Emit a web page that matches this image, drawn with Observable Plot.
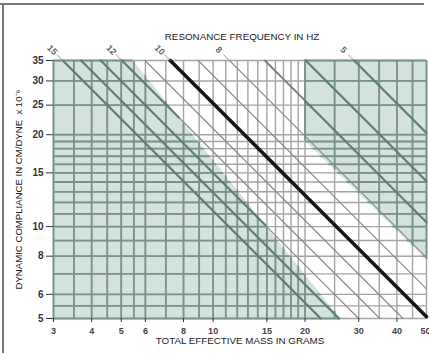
<!DOCTYPE html>
<html><head><meta charset="utf-8">
<script src="https://cdn.jsdelivr.net/npm/d3@7"></script>
<script src="https://cdn.jsdelivr.net/npm/@observablehq/plot@0.6"></script>
<style>
body{margin:0;background:#fff;}
#wrap{position:relative;width:429px;height:353px;overflow:hidden;}
#wrap svg{display:block;}
.ft{position:absolute;left:0;top:3px;width:424px;height:2px;background:#777;}
.fl{position:absolute;left:2px;top:3px;width:2px;height:350px;background:#777;}
</style></head><body><div id="wrap"><div class="ft"></div><div class="fl"></div></div>
<script>
// resonance frequency lines (Hz)
const freqs = [15, 14, 13, 12, 11, 10, 9, 8, 7, 6, 5];
const labeledFreqs = [15, 12, 10, 8, 5];
const boldFreq = 10;
// grid values
const massGrid = [3,3.5,4,4.5,5,5.5,6,7,8,9,10,11,12,13,14,15,16,17,18,19,20,25,30,35,40,45,50];
const complianceGrid = [5,5.5,6,7,8,9,10,11,12,13,14,15,16,17,18,19,20,25,30,35];
// tick labels
const massTicks = [3,4,5,6,8,10,15,20,30,40];
const massTickLast = [50];
const complianceTicks = [5,6,8,10,15,20,25,30,35];
// shaded zones: boundary endpoints [mass, compliance]
const lowZoneEdge = [[5.47, 35], [26.1, 5]];
const highZoneEdge = [[20, 19.1], [50, 7.8]];

const L = Math.log10;
const K = f => 1e6 / (4 * Math.PI * Math.PI * f * f); // M*C product
function edgeCatM(edge, m) {
  const [[m1, c1], [m2, c2]] = edge;
  return 10 ** (L(c1) + (L(m) - L(m1)) * (L(c2) - L(c1)) / (L(m2) - L(m1)));
}
function edgeMatC(edge, c) {
  const [[m1, c1], [m2, c2]] = edge;
  return 10 ** (L(m1) + (L(c) - L(c1)) * (L(m2) - L(m1)) / (L(c2) - L(c1)));
}
const [lowA, lowB] = lowZoneEdge, [hiA, hiB] = highZoneEdge;

const lowZone = [[3, 35], lowA, lowB];
const highZone = [hiA, hiB];

// grid segments inside the shaded zones
const gx = [], gy = [];
for (const m of massGrid) {
  if (m < lowB[0]) gx.push({m, c1: 5, c2: m <= lowA[0] ? 35 : edgeCatM(lowZoneEdge, m)});
  if (m >= hiA[0]) gx.push({m, c1: edgeCatM(highZoneEdge, m), c2: 35});
}
for (const c of complianceGrid) {
  gy.push({c, m1: 3, m2: edgeMatC(lowZoneEdge, c)});
  if (c >= hiA[1]) gy.push({c, m1: hiA[0], m2: 50});
  else if (c > hiB[1]) gy.push({c, m1: edgeMatC(highZoneEdge, c), m2: 50});
}

// diagonal lines, styled by the zone they cross
const strongSeg = [], thinSeg = [], midSeg = [], boldSeg = [];
const pt = (f, m) => ({f, m, c: K(f) / m});
for (const f of freqs) {
  const k = K(f);
  const mStart = Math.max(3, k / 35), mEnd = Math.min(50, k / 5);
  if (f === boldFreq) { boldSeg.push(pt(f, mStart), pt(f, mEnd)); continue; }
  if (f < 8) {
    if (mStart < hiA[0]) {
      midSeg.push(pt(f, mStart), pt(f, hiA[0]));
      strongSeg.push(pt(f + 0.001, hiA[0]), pt(f + 0.001, mEnd));
    } else strongSeg.push(pt(f, mStart), pt(f, mEnd));
    continue;
  }
  const u1 = L(lowA[0]), v1 = L(lowA[1]), du = L(lowB[0]) - u1, dv = L(lowB[1]) - v1;
  const t = (L(k) - u1 - v1) / (du + dv);
  const mCross = 10 ** (u1 + t * du);
  if (mCross <= mStart) thinSeg.push(pt(f, mStart), pt(f, mEnd));
  else if (mCross >= mEnd) strongSeg.push(pt(f, mStart), pt(f, mEnd));
  else {
    strongSeg.push(pt(f, mStart), pt(f, mCross));
    thinSeg.push(pt(f, mCross), pt(f, mEnd));
  }
}
const leaderRows = [];
for (const f of labeledFreqs) leaderRows.push({f, m: K(f) / 35, c: 35}, {f, m: K(f) / 36.5, c: 36.5});
const labelRows = labeledFreqs.map(f => ({f, m: K(f) / 37.9, c: 37.9}));

const zoneFill = "#d3e2dc";
const chart = Plot.plot({
  width: 429, height: 353,
  marginLeft: 53, marginRight: 3, marginTop: 60, marginBottom: 35,
  style: {fontFamily: "'Liberation Sans', Arial, sans-serif", fontSize: "9px", color: "#333", background: "transparent"},
  x: {type: "log", domain: [3, 50]},
  y: {type: "log", domain: [5, 35]},
  marks: [
    Plot.areaY(lowZone, {x: d => d[0], y1: 5, y2: d => d[1], fill: zoneFill}),
    Plot.areaY(highZone, {x: d => d[0], y1: d => d[1], y2: 35, fill: zoneFill}),
    Plot.ruleX(massGrid, {x: d => d, stroke: "#a4a4a4", strokeWidth: 1.4}),
    Plot.ruleY(complianceGrid, {y: d => d, stroke: "#a4a4a4", strokeWidth: 1.4}),
    Plot.ruleX(gx, {x: "m", y1: "c1", y2: "c2", stroke: "#789489", strokeWidth: 1.8}),
    Plot.ruleY(gy, {y: "c", x1: "m1", x2: "m2", stroke: "#789489", strokeWidth: 1.8}),
    Plot.line(thinSeg, {x: "m", y: "c", z: "f", stroke: "#8a8a8a", strokeWidth: 1.1}),
    Plot.line(midSeg, {x: "m", y: "c", z: "f", stroke: "#7c7c7c", strokeWidth: 1.8}),
    Plot.line(strongSeg, {x: "m", y: "c", z: "f", stroke: "#5f7e74", strokeWidth: 2.2}),
    Plot.line(boldSeg, {x: "m", y: "c", z: "f", stroke: "#151515", strokeWidth: 3.6}),
    Plot.line(leaderRows, {x: "m", y: "c", z: "f", stroke: "#999", strokeWidth: 1, clip: false}),
    Plot.text(labelRows, {x: "m", y: "c", text: d => String(d.f), rotate: 45, fontSize: 9, fontWeight: "bold", fill: "#666"}),
    Plot.axisX({ticks: massTicks, tickFormat: d => d, tickSize: 4, tickPadding: 5, label: null, fontWeight: "bold", fill: "#444"}),
    Plot.axisX({ticks: massTickLast, tickFormat: d => d, tickSize: 4, tickPadding: 5, label: null, fontWeight: "bold", fill: "#444", textAnchor: "end", dx: 4}),
    Plot.axisY({ticks: complianceTicks, tickFormat: d => d, tickSize: 7, tickPadding: 3, label: null, fontWeight: "bold", fill: "#333", fontSize: 10}),
    Plot.text(["RESONANCE FREQUENCY IN HZ"], {frameAnchor: "top", text: d => d, dy: -27, dx: 2, fontSize: 9.8, fill: "#222"}),
    Plot.text(["TOTAL EFFECTIVE MASS IN GRAMS"], {frameAnchor: "bottom", text: d => d, dy: 25, fontSize: 9.8, fill: "#222"}),
    Plot.text(["DYNAMIC COMPLIANCE IN CM/DYNE  x 10⁻⁶"], {frameAnchor: "left", textAnchor: "middle", text: d => d, dx: -35, rotate: -90, fontSize: 9.6, fill: "#222"})
  ]
});
document.getElementById("wrap").prepend(chart);
</script></body></html>
